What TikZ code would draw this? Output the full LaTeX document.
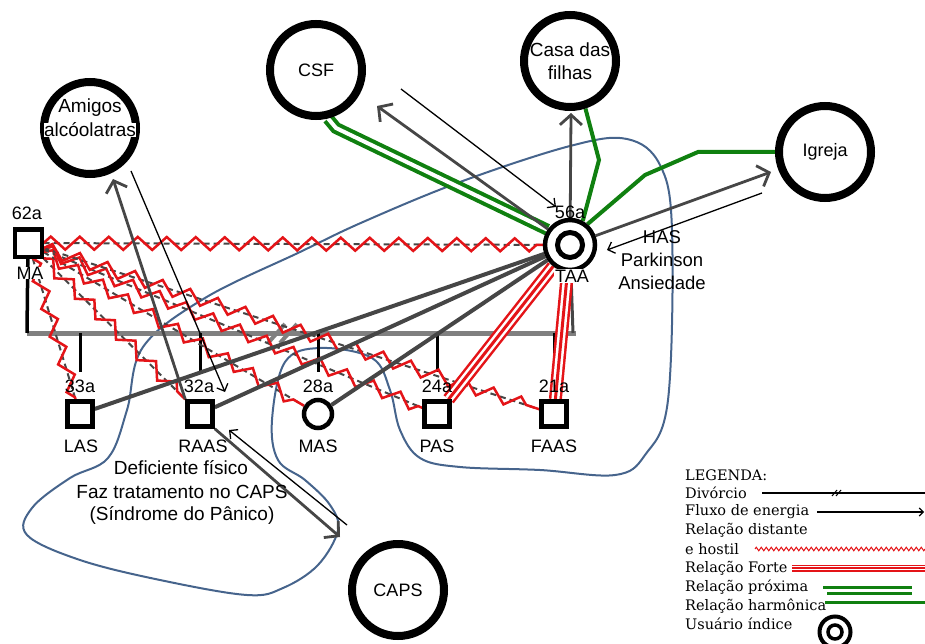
\documentclass[tikz,border=0pt]{standalone}
\usepackage{fontspec}
\setmainfont{Liberation Sans}
\newfontfamily\legfont{DejaVu Serif}
\usetikzlibrary{decorations.pathmorphing,arrows.meta,backgrounds}
\definecolor{zred}{RGB}{228,20,24}
\definecolor{dgrey}{RGB}{70,70,70}
\definecolor{mgrey}{RGB}{128,128,128}
\definecolor{ggreen}{RGB}{16,128,16}
\definecolor{bblue}{RGB}{70,100,140}
\begin{document}
\begin{tikzpicture}[x=1pt,y=-1pt,
  txt/.style={font=\fontsize{18}{20}\selectfont, inner sep=0pt},
  bigc/.style={circle, draw, line width=8pt, minimum size=92pt, fill=white, align=center, inner sep=0pt, font=\fontsize{18}{23}\selectfont},
  sqr/.style={draw, line width=4.5pt, minimum size=25pt, fill=white, inner sep=0pt},
  kidc/.style={circle, draw, line width=4.5pt, minimum size=28pt, fill=white, inner sep=0pt},
  leg/.style={font=\legfont\fontsize{14.5}{16}\selectfont, anchor=west, inner sep=0pt},
  hdash/.style={draw=dgrey, line width=2pt, dash pattern=on 6pt off 4pt},
  hzig/.style={draw=zred, line width=2.5pt, decorate, decoration={zigzag, segment length=29pt, amplitude=6.5pt}},
  dline/.style={draw=dgrey, line width=4pt},
  strong/.style={draw=zred, line width=13pt, postaction={draw=white, line width=8pt}, postaction={draw=zred, line width=3pt}},
  prox/.style={draw=ggreen, line width=4pt, double=white, double distance=4pt},
  harm/.style={draw=ggreen, line width=4pt},
  flowg/.style={draw=dgrey, line width=2.8pt, -{Straight Barb[length=10pt,width=22pt]}},
  flowb/.style={draw=black, line width=1.3pt, -{Straight Barb[length=6pt,width=12pt]}},
]
\useasboundingbox (0,0) rectangle (925,644);

% ---------- nodes ----------
\node[bigc] (csf) at (316,70) {CSF};
\node[bigc, font=\fontsize{19}{23}\selectfont] (casa) at (570,61) {Casa das\\filhas};
\node[bigc] (igreja) at (825,152) {Igreja};
\node[bigc] (amigos) at (90,128) {};
\node[txt, font=\fontsize{19}{21}\selectfont] (amigosT1) at (90,108) {Amigos};
\node[txt, font=\fontsize{19}{21}\selectfont, fill=white] (amigosT2) at (90,130) {alcóolatras};
\node[bigc] (caps) at (398,590) {CAPS};

\node[txt] (l62) at (27,213) {62a};
\node[sqr, minimum size=27pt, line width=4pt] (ma) at (28,243) {};
\node[txt, fill=white] (lma) at (30,273) {MA};

\node[txt] (l56) at (570,212) {56a};
\node[circle, draw, line width=4.5pt, minimum size=50pt, fill=white, inner sep=0pt] (taa) at (570,245) {};
\node[circle, draw, line width=5pt, minimum size=25pt, fill=white, inner sep=0pt] (taain) at (570,245) {};
\node[txt, fill=white, inner sep=1pt] (ltaa) at (572,276) {TAA};
\node[txt, align=center, font=\fontsize{18.5}{23}\selectfont] (has) at (662,260) {HAS\\Parkinson\\Ansiedade};

\node[txt] (a1) at (80,386) {33a};
\node[txt] (a2) at (199,386) {32a};
\node[txt] (a3) at (318,386) {28a};
\node[txt] (a4) at (437,386) {24a};
\node[txt] (a5) at (554,386) {21a};
\node[sqr] (las) at (80,414) {};
\node[sqr] (raas) at (200,414) {};
\node[kidc] (mas) at (318,414) {};
\node[sqr] (pas) at (437,414) {};
\node[sqr] (faas) at (554,414) {};
\node[txt] (n1) at (81,446) {LAS};
\node[txt] (n2) at (203,446) {RAAS};
\node[txt] (n3) at (318,446) {MAS};
\node[txt] (n4) at (437,446) {PAS};
\node[txt] (n5) at (554,446) {FAAS};

\node[txt, font=\fontsize{19}{21}\selectfont] (d1) at (181,468) {Deficiente físico};
\node[txt, font=\fontsize{19}{21}\selectfont] (d2) at (182,492) {Faz tratamento no CAPS};
\node[txt, font=\fontsize{19}{21}\selectfont] (d3) at (182,515) {(Síndrome do Pânico)};

% ---------- coordinates ----------
\coordinate (ml1) at (27,333);
\coordinate (ml2) at (576,333);
\coordinate (mtaa) at (573,333);
\foreach \i/\x in {1/80,2/200,3/318,4/437,5/554}{
  \coordinate (kt\i) at (\x,333);
  \coordinate (kb\i) at (\x,372);
}
\coordinate (dv1a) at (268,343); \coordinate (dv1b) at (285,324);
\coordinate (dv2a) at (280,343); \coordinate (dv2b) at (297,324);

\coordinate (t1) at (377,106);
\coordinate (s2) at (401,89);  \coordinate (t2) at (556,207);
\coordinate (t3) at (571,113);
\coordinate (t4) at (771,172);
\coordinate (s5) at (762,193); \coordinate (t5) at (607,250);
\coordinate (t6) at (113,179);
\coordinate (s7) at (131,171); \coordinate (t7) at (225,392);
\coordinate (t8) at (340,537);
\coordinate (s9) at (347,525); \coordinate (t9) at (229,430);
\coordinate (g1) at (336,128);
\coordinate (g2) at (599,160);
\coordinate (g3) at (698,152);
\coordinate (g4) at (645,175);

% ---------- connectors (behind nodes) ----------
\begin{pgfonlayer}{background}
% family boundary
\draw[bblue, line width=2pt] plot[smooth cycle, tension=0.6] coordinates {
 (143,347) (205,298) (300,252) (363,222) (460,182) (570,146) (627,139) (660,165)
 (672,230) (668,400) (645,455) (615,475) (540,470) (460,467) (420,458) (400,430)
 (390,390) (372,358) (320,348) (285,362) (272,420) (278,460) (305,480) (330,505)
 (338,530) (318,565) (283,588) (247,595) (160,580) (80,560) (27,535) (32,508)
 (70,478) (108,458) (127,410)};

% marriage line and descent
\draw[mgrey, line width=5pt] (ml1) -- (ml2);
\draw[line width=3.5pt] (ma) -- (ml1);
\draw[draw=dgrey, line width=3pt] (taa) -- (mtaa);
\foreach \i in {1,...,5}{ \draw[line width=3pt] (kt\i) -- (kb\i); }
\draw[mgrey, line width=4pt] (dv1a) -- (dv1b);
\draw[mgrey, line width=4pt] (dv2a) -- (dv2b);

% distant and hostile relations
\foreach \k in {taa,las,raas,mas,pas,faas}{
  \draw[hdash] (ma) -- (\k);
  \draw[hzig] (ma) -- (\k);
}

% dark links
\draw[dline] (taa) -- (las);
\draw[dline] (taa) -- (raas);
\draw[dline] (taa) -- (mas);

% strong relations
\draw[strong] (taa) -- (pas);
\draw[strong] (taa) -- (faas);

% close / harmonic
\draw[prox] (csf.-76) -- (g1) -- (taa.146);
\draw[harm] (casa.-72) -- (g2) -- (taa.62);
\draw[harm] (igreja.west) -- (g3) -- (g4) -- (taa.50);

% energy flows
\draw[flowg] (taa) -- (t1);
\draw[flowb] (s2) -- (t2);
\draw[flowg] (taa) -- (t3);
\draw[flowg] (taa) -- (t4);
\draw[flowb] (s5) -- (t5);
\draw[flowg] (raas.north west) -- (t6);
\draw[flowb] (s7) -- (t7);
\draw[flowg] (raas.south east) -- (t8);
\draw[flowb] (s9) -- (t9);
\end{pgfonlayer}

% ---------- legend ----------
\node[leg] (lg0) at (685,475) {LEGENDA:};
\node[leg] (lg1) at (685,493) {Divórcio};
\node[leg] (lg2) at (685,512) {Fluxo de energia};
\node[leg] (lg3) at (685,530) {Relação distante};
\node[leg] (lg4) at (685,549) {e hostil};
\node[leg] (lg5) at (685,568) {Relação Forte};
\node[leg] (lg6) at (685,587) {Relação próxima};
\node[leg] (lg7) at (685,606) {Relação harmônica};
\node[leg] (lg8) at (685,624) {Usuário índice};

\coordinate (L1a) at (762,493); \coordinate (L1b) at (925,493);
\coordinate (L1s1a) at (832,496); \coordinate (L1s1b) at (837,490);
\coordinate (L1s2a) at (836,496); \coordinate (L1s2b) at (841,490);
\coordinate (L2a) at (817,512); \coordinate (L2b) at (924,512);
\coordinate (L3a) at (755,549); \coordinate (L3b) at (925,549);
\coordinate (L4a) at (792,568); \coordinate (L4b) at (925,568);
\coordinate (L5a) at (823,587); \coordinate (L5b) at (912,587);
\coordinate (L6a) at (827,593); \coordinate (L6b) at (912,593);
\coordinate (L7a) at (825,602); \coordinate (L7b) at (925,602);
\draw[line width=1.2pt] (L1a) -- (L1b);
\draw[line width=1pt] (L1s1a) -- (L1s1b);
\draw[line width=1pt] (L1s2a) -- (L1s2b);
\draw[line width=1.1pt, -{Straight Barb[length=4pt,width=8pt]}] (L2a) -- (L2b);
\draw[zred, line width=1pt, decorate, decoration={zigzag, segment length=5pt, amplitude=1.8pt}] (L3a) -- (L3b);
\draw[zred, line width=7pt, postaction={draw=white, line width=4pt}, postaction={draw=zred, line width=1.5pt}] (L4a) -- (L4b);
\draw[ggreen, line width=3pt] (L5a) -- (L5b);
\draw[ggreen, line width=3pt] (L6a) -- (L6b);
\draw[ggreen, line width=3pt] (L7a) -- (L7b);
\node[circle, draw, line width=4pt, minimum size=31pt, inner sep=0pt] (ui) at (835,632) {};
\node[circle, draw, line width=3.5pt, minimum size=14pt, inner sep=0pt] (uii) at (835,632) {};
\end{tikzpicture}
\end{document}
